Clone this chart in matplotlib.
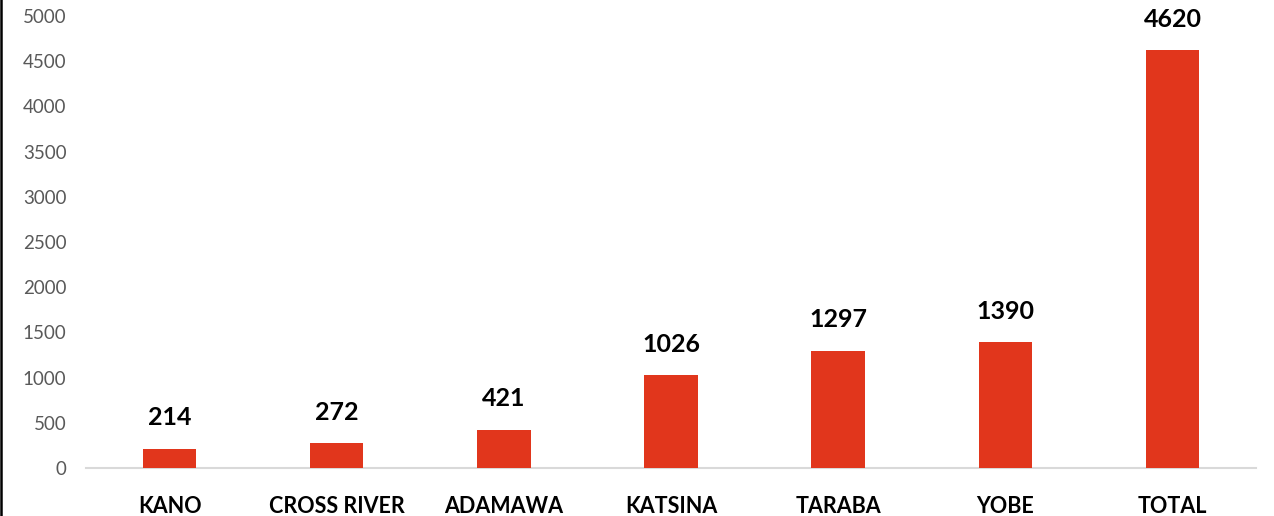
import matplotlib.pyplot as plt
from matplotlib.lines import Line2D

states = ["KANO", "CROSS RIVER", "ADAMAWA", "KATSINA", "TARABA", "YOBE", "TOTAL"]
cases = [214, 272, 421, 1026, 1297, 1390, 4620]
yticks = list(range(0, 5001, 500))

bar_color = "#E1361C"
tick_color = "#595959"

plt.rcParams["font.family"] = ["Lato", "DejaVu Sans"]

fig = plt.figure(figsize=(12.74, 5.16), dpi=100)
ax = fig.add_axes([86 / 1274, 48 / 516, 1170 / 1274, 452 / 516])

x = list(range(len(states)))
bars = ax.bar(x, cases, width=0.32, color=bar_color, zorder=3)

for xi, v in zip(x, cases):
    ax.annotate(str(v), (xi, v), xytext=(0, 14), textcoords="offset points",
                ha="center", va="bottom", fontsize=18, fontweight="bold", color="black")

ax.set_xlim(-0.5, len(states) - 0.5)
ax.set_ylim(0, 5000)
ax.set_yticks(yticks)
ax.set_xticks(x)
ax.set_xticklabels(states, fontsize=15.5, fontweight="bold", color="black")
ax.tick_params(axis="y", labelsize=13.5, labelcolor=tick_color, length=0, pad=14)
ax.tick_params(axis="x", length=0, pad=20)

for side in ["top", "right", "left"]:
    ax.spines[side].set_visible(False)
ax.spines["bottom"].set_color("#D9D9D9")
ax.spines["bottom"].set_linewidth(1.5)

# left frame border of the original picture
fig.add_artist(Line2D([1.2 / 1274, 1.2 / 1274], [0, 1], transform=fig.transFigure,
                      color="black", linewidth=1.8))

fig.savefig("out.png", dpi=100)
